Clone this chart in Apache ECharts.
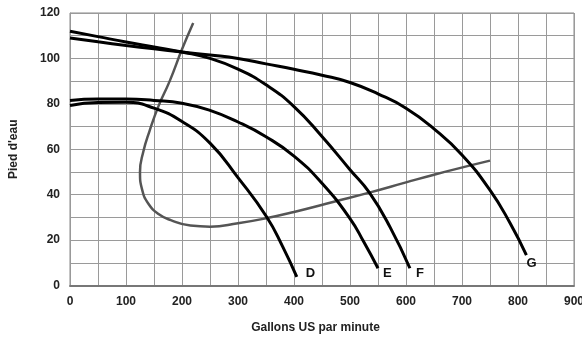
<!DOCTYPE html>
<html>
<head>
<meta charset="utf-8">
<script src="https://cdn.jsdelivr.net/npm/echarts@6/dist/echarts.min.js"></script>
<style>
html,body{margin:0;padding:0;background:#fff;}
#chart{width:582px;height:337px;}
</style>
</head>
<body>
<div id="chart"></div>
<script>
// Axis setup
const xTicks = [0, 100, 200, 300, 400, 500, 600, 700, 800, 900];
const yTicks = [0, 20, 40, 60, 80, 100, 120];
const xTitle = 'Gallons US par minute';
const yTitle = "Pied d'eau";

// Pump curves [gpm, head]
const curveD = [[0,79.3],[50,80.6],[100,80.7],[150,78.1],[200,72.2],[250,62.7],[300,47.5],[351,30.3],[380,17],[405,3.8]];
const curveE = [[0,81.5],[50,82.1],[100,82.1],[150,81.5],[200,80.3],[250,77.1],[300,72],[350,65.5],[400,57],[450,45],[500,29.5],[525,19],[550,7.6]];
const curveF = [[0,112],[50,109.6],[100,107.2],[150,105],[200,102.8],[250,100],[300,95.3],[350,88.4],[400,78.8],[450,65.6],[500,51],[535,40.8],[572,25.5],[607,7.6]];
const curveG = [[0,109],[50,107.3],[100,105.7],[150,104.2],[200,102.8],[250,101.5],[300,100],[350,97.6],[400,95.2],[450,92.6],[500,89.4],[550,84.4],[600,78.1],[650,69],[700,57.5],[750,42],[786,27.4],[815,13.4]];
// System curve (loops back on itself)
const systemCurve = [[220,115.6],[200,104],[178,90],[158,79],[142,68],[131,59],[125,50],[129,42],[140,36],[158,31.5],[180,28.8],[215,26.4],[250,25.9],[300,27.4],[350,29.6],[400,32.4],[473,37],[536,41],[600,45.4],[650,48.8],[717,53],[750,55]];

const curveNames = ['D', 'E', 'F', 'G'];
const curveData = [curveD, curveE, curveF, curveG];
const labelOffsets = [[9,-3],[5,5],[6,5],[0,8]];

const chart = echarts.init(document.getElementById('chart'), null, {renderer: 'canvas'});
const font = 'Liberation Sans, Arial, sans-serif';

const series = [{
  type: 'line',
  data: systemCurve,
  symbol: 'none',
  smooth: 0.5,
  lineStyle: {color: '#555', width: 2.5},
  z: 2
}];
curveData.forEach((d, i) => {
  series.push({
    type: 'line',
    name: curveNames[i],
    data: d,
    symbol: 'none',
    smooth: 0.5,
    lineStyle: {color: '#000', width: 3},
    z: 3,
    endLabel: {
      show: true,
      formatter: curveNames[i],
      distance: 0,
      offset: labelOffsets[i],
      fontFamily: font,
      fontWeight: 'bold',
      fontSize: 13,
      color: '#111'
    }
  });
});

chart.setOption({
  animation: false,
  backgroundColor: '#fff',
  grid: {left: 70, right: 8, top: 13, bottom: 51.5, show: true, borderColor: '#888', borderWidth: 1, containLabel: false, outerBoundsMode: 'none'},
  xAxis: {
    type: 'value', min: 0, max: 900, interval: 50,
    name: xTitle, nameLocation: 'middle', nameGap: 36,
    nameTextStyle: {fontFamily: font, fontWeight: 'bold', fontSize: 12, color: '#222', padding: [0, 13, 0, 0]},
    axisLine: {show: true, lineStyle: {color: '#777', width: 2}},
    axisTick: {show: false},
    axisLabel: {
      margin: 10, fontFamily: font, fontWeight: 'bold', fontSize: 12, color: '#222',
      formatter: v => xTicks.indexOf(v) >= 0 ? String(v) : ''
    },
    splitLine: {show: true, lineStyle: {color: '#9a9a9a', width: 1}}
  },
  yAxis: {
    type: 'value', min: 0, max: 120, interval: 10,
    name: yTitle, nameLocation: 'middle', nameGap: 50, nameRotate: 90,
    nameTextStyle: {fontFamily: font, fontWeight: 'bold', fontSize: 12, color: '#222'},
    axisLine: {show: true, lineStyle: {color: '#999', width: 1}},
    axisTick: {show: false},
    axisLabel: {
      margin: 10, fontFamily: font, fontWeight: 'bold', fontSize: 12, color: '#222',
      formatter: v => yTicks.indexOf(v) >= 0 ? String(v) : ''
    },
    splitLine: {show: true, lineStyle: {color: '#9a9a9a', width: 1}}
  },
  series: series
});
</script>
</body>
</html>
